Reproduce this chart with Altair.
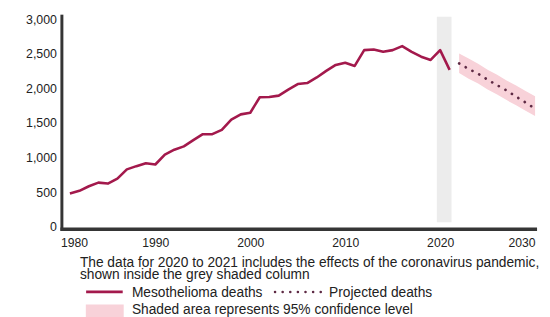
import altair as alt
import pandas as pd

# ---- data ----
YEARS = list(range(1981, 2022))
DEATHS = [481, 519, 586, 638, 624, 695, 829, 876, 919, 900,
          1043, 1114, 1162, 1252, 1338, 1338, 1400, 1548, 1624, 1648,
          1871, 1876, 1895, 1981, 2062, 2076, 2157, 2252, 2338, 2371,
          2324, 2552, 2562, 2528, 2552, 2610, 2528, 2457, 2410, 2552,
          2267]
PROJ_YEARS = list(range(2022, 2031))
PROJECTED = [2360, 2280, 2210, 2125, 2045, 1970, 1880, 1795, 1705]
CI_UPPER = [2505, 2430, 2355, 2270, 2195, 2115, 2040, 1960, 1885]
CI_LOWER = [2220, 2140, 2070, 1985, 1910, 1830, 1755, 1675, 1600]
PANDEMIC = [2019.65, 2021.2]
X_TICKS = [1980, 1990, 2000, 2010, 2020, 2030]
Y_TICKS = [0, 500, 1000, 1500, 2000, 2500, 3000]
NOTE = ("The data for 2020 to 2021 includes the effects of the coronavirus pandemic,\n"
        "shown inside the grey shaded column")
LEG_DEATHS = "Mesothelioma deaths"
LEG_PROJ = "Projected deaths"
LEG_CI = "Shaded area represents 95% confidence level"

FONT = "Liberation Sans"
LINE_C = "#a3194c"
DOT_C = "#5e2a44"
BAND_C = "#f8d2d9"
GREY_C = "#ececec"
AXIS_C = "#353535"
TEXT_C = "#222222"

hist = pd.DataFrame({"year": YEARS, "v": DEATHS})
proj = pd.DataFrame({"year": PROJ_YEARS, "v": PROJECTED,
                     "lo": CI_LOWER, "hi": CI_UPPER})
col = pd.DataFrame({"year": [PANDEMIC[0]], "year2": [PANDEMIC[1]]})

xs = alt.Scale(domain=[1980, 2030], nice=False, zero=False)
ys = alt.Scale(domain=[0, 3000], nice=False)

x_axis = alt.Axis(values=X_TICKS, format="d", labelFlush=True,
                  domain=False, ticks=False, tickSize=0, grid=False,
                  offset=2, labelPadding=8, labelFont=FONT,
                  labelFontSize=12.3, labelColor=TEXT_C)
y_axis = alt.Axis(values=Y_TICKS, format=",d", domain=False, ticks=False,
                  tickSize=0, grid=False, labelPadding=4, labelFont=FONT,
                  labelFontSize=12.5, labelColor=TEXT_C)
x_enc = alt.X("year:Q", scale=xs, title=None, axis=x_axis)

grey = alt.Chart(col).mark_rect(color=GREY_C).encode(
    x=x_enc, x2="year2:Q",
    y=alt.value(-2.5), y2=alt.value(205.5))

band = alt.Chart(proj).mark_area(color=BAND_C).encode(
    x=x_enc, y=alt.Y("lo:Q", scale=ys, title=None, axis=y_axis), y2="hi:Q")

line = alt.Chart(hist).mark_line(color=LINE_C, strokeWidth=2.6,
                                 strokeJoin="round").encode(
    x=x_enc, y=alt.Y("v:Q", scale=ys, title=None, axis=y_axis))

dots = alt.Chart(proj).mark_line(color=DOT_C, strokeWidth=2.7,
                                 strokeCap="round",
                                 strokeDash=[0.1, 7.6]).encode(
    x=x_enc, y=alt.Y("v:Q", scale=ys, title=None, axis=y_axis))

one = alt.Data(values=[{"k": 1}])
# axis lines (drawn as rules)
y_line = alt.Chart(one).mark_rule(color=AXIS_C, strokeWidth=3).encode(
    x=alt.value(1.5), y=alt.value(-4.5), y2=alt.value(214))
x_line = alt.Chart(one).mark_rule(color=AXIS_C, strokeWidth=3.5).encode(
    x=alt.value(0), x2=alt.value(482), y=alt.value(212.5))


def txt(s, x, y):
    return alt.Chart(alt.Data(values=[{"t": s}])).mark_text(
        align="left", baseline="alphabetic", font=FONT, fontSize=13.9,
        lineBreak="\n", lineHeight=12.3,
        color=TEXT_C).encode(x=alt.value(x), y=alt.value(y), text="t:N")


sw_line = alt.Chart(one).mark_rule(color=LINE_C, strokeWidth=2.6).encode(
    x=alt.value(26), x2=alt.value(63), y=alt.value(275.8))
sw_dots = alt.Chart(one).mark_rule(color=DOT_C, strokeWidth=2.5,
                                   strokeCap="round",
                                   strokeDash=[0.1, 7.6]).encode(
    x=alt.value(217), x2=alt.value(266), y=alt.value(276))
sw_band = alt.Chart(one).mark_rect(color=BAND_C).encode(
    x=alt.value(25.7), x2=alt.value(64), y=alt.value(288.5), y2=alt.value(305))

chart = alt.layer(
    grey, band, line, dots, y_line, x_line,
    txt(NOTE, 19.7, 250.4),
    sw_line, txt(LEG_DEATHS, 72.3, 280.8), sw_dots, txt(LEG_PROJ, 271.7, 280.8),
    sw_band, txt(LEG_CI, 72.3, 298.5),
).properties(
    width=480, height=210,
    autosize=alt.AutoSizeParams(type="none"),
    padding={"left": 53, "top": 9.5, "right": 7, "bottom": 91.5},
).configure_view(stroke=None)

chart.save("out.html", embed_options={"renderer": "svg", "actions": False})
